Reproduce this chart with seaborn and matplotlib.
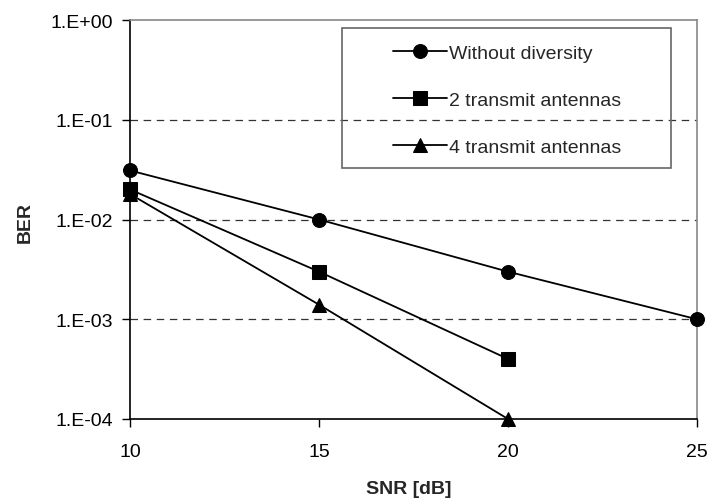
import matplotlib
matplotlib.use("Agg")
import matplotlib.pyplot as plt
import matplotlib.ticker as mticker
from matplotlib.patches import Rectangle
import seaborn as sns
import pandas as pd

snr_no_div = [10, 15, 20, 25]
ber_no_div = [0.031, 0.01, 0.003, 0.001]
snr_2tx = [10, 15, 20]
ber_2tx = [0.02, 0.003, 0.0004]
snr_4tx = [10, 15, 20]
ber_4tx = [0.018, 0.0014, 0.0001]
series_names = ["Without diversity", "2 transmit antennas", "4 transmit antennas"]
x_ticks = [10, 15, 20, 25]
y_ticks = [1e-4, 1e-3, 1e-2, 1e-1, 1e0]
y_tick_labels = ["1.E-04", "1.E-03", "1.E-02", "1.E-01", "1.E+00"]

df = pd.concat([
    pd.DataFrame({"SNR": snr_no_div, "BER": ber_no_div, "series": series_names[0]}),
    pd.DataFrame({"SNR": snr_2tx, "BER": ber_2tx, "series": series_names[1]}),
    pd.DataFrame({"SNR": snr_4tx, "BER": ber_4tx, "series": series_names[2]}),
], ignore_index=True)

sns.set_style("white")
plt.rcParams['font.family'] = ['Liberation Sans', 'DejaVu Sans']
FS = 14

fig = plt.figure(figsize=(7.09, 5.02), dpi=100)
ax = fig.add_axes([130/709, 1-420/502, 567/709, 399/502])

for y in [1e-1, 1e-2, 1e-3]:
    ax.axhline(y, color="#333333", lw=0.9, ls=(0, (6, 4.5)), zorder=1)

sns.lineplot(data=df, x="SNR", y="BER", hue="series", style="series",
             palette=["black"]*3, markers={series_names[0]: "o", series_names[1]: "s", series_names[2]: "^"},
             dashes=False, markersize=10, linewidth=1.3, markeredgecolor="black",
             clip_on=False, legend=True, ax=ax, zorder=3)

ax.set_yscale("log")
ax.set_ylim(1e-4, 1e0)
ax.set_xlim(10, 25)
ax.set_xticks(x_ticks)
ax.set_xticklabels([str(t) for t in x_ticks])
ax.set_yticks(y_ticks)
ax.set_yticklabels(y_tick_labels)
ax.yaxis.set_minor_locator(mticker.NullLocator())
ax.tick_params(axis="both", which="major", direction="out", length=6, width=1,
               color="black", labelsize=FS, labelcolor="black")
ax.tick_params(axis="x", pad=11, bottom=True)
ax.tick_params(axis="y", pad=6, left=True)

for side in ["left", "bottom"]:
    ax.spines[side].set_color("black")
    ax.spines[side].set_linewidth(1.2)
for side in ["top", "right"]:
    ax.spines[side].set_visible(True)
    ax.spines[side].set_color("#888888")
    ax.spines[side].set_linewidth(1.2)

ax.set_xlabel("SNR [dB]", fontsize=FS, fontweight="bold", va="center")
ax.set_ylabel("BER", fontsize=FS, fontweight="bold", va="center")
ax.xaxis.set_label_coords((409-130)/567, -(490-420)/399)
ax.yaxis.set_label_coords(-(130-25)/567, (420-222)/399)

handles, labels = ax.get_legend_handles_labels()
leg = ax.legend(handles, labels, loc="center",
                bbox_to_anchor=((507-130)/567, (420-101)/399),
                frameon=False, fontsize=FS, handlelength=2.8,
                handletextpad=0.1, labelspacing=1.5, borderpad=0.3)
ax.add_patch(Rectangle(((342-130)/567, (420-169)/399), (671-342)/567, (169-29)/399,
                       transform=ax.transAxes, fill=False, edgecolor="#666666",
                       lw=1.2, zorder=4))

fig.savefig("out.png", dpi=100)
